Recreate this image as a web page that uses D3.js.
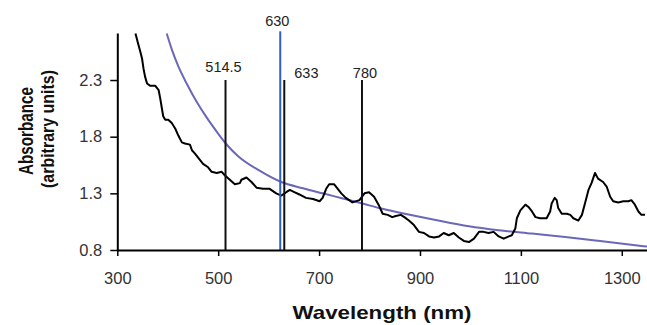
<!DOCTYPE html>
<html>
<head>
<meta charset="utf-8">
<script src="https://cdn.jsdelivr.net/npm/d3@7"></script>
<style>
  html, body { margin: 0; padding: 0; background: #fff; }
  svg { display: block; }
</style>
</head>
<body>
<svg id="chart" width="647" height="325"></svg>
<script>
// ---- Data ----
const xTicks = [300, 500, 700, 900, 1100, 1300];
const yTicks = [0.8, 1.3, 1.8, 2.3];

// measured absorbance spectrum: [wavelength nm, absorbance]
const spectrumWl = [336,342,345,349,352,355,359,365,375,382,385,388,391,395,401,408,415,421,428,434,444,448,454,461,470,480,487,497,507,513,523,533,543,
  546,556,566,576,589,602,615,625,635,642,651,661,674,688,701,707,714,720,730,737,744,753,766,780,790,799,809,819,
  826,836,845,852,862,869,878,888,898,908,918,928,938,947,957,967,977,987,997,1007,1017,1026,1036,1046,1056,1066,1076,1082,1089,1092,1099,
  1109,1115,1122,1129,1138,1151,1158,1161,1167,1171,1174,1181,1191,1198,1204,1214,1221,1227,1234,1240,1247,1253,1263,1270,1277,1283,1293,1303,1313,1319,1326,1333,1339,1346];
const spectrumAbs = [2.71,2.61,2.56,2.49,2.40,2.33,2.27,2.25,2.25,2.21,2.14,2.06,1.98,1.95,1.95,1.92,1.87,1.81,1.75,1.74,1.73,1.68,1.65,1.61,1.56,1.53,1.49,1.48,1.49,1.46,1.42,1.38,1.39,
  1.42,1.44,1.40,1.35,1.34,1.34,1.30,1.28,1.31,1.33,1.31,1.29,1.26,1.25,1.23,1.26,1.34,1.38,1.38,1.34,1.30,1.26,1.22,1.24,1.30,1.31,1.27,1.19,
  1.12,1.11,1.09,1.10,1.11,1.09,1.06,1.02,0.96,0.95,0.92,0.91,0.92,0.95,0.93,0.95,0.91,0.88,0.87,0.90,0.96,0.96,0.95,0.96,0.92,0.90,0.92,0.93,0.99,1.08,1.15,
  1.20,1.18,1.14,1.09,1.08,1.08,1.14,1.21,1.26,1.24,1.17,1.12,1.12,1.11,1.08,1.06,1.11,1.21,1.33,1.39,1.48,1.43,1.40,1.36,1.27,1.23,1.22,1.23,1.23,1.24,1.20,1.14,1.11,1.11];

// smooth scattering curve (blue)
const fitWl  = [398,408,421,438,457,477,497,515,539,582,625,668,707,747,786,819,865,931,997,1056,1122,1188,1253,1350];
const fitAbs = [2.71,2.57,2.42,2.265,2.11,1.97,1.845,1.74,1.63,1.50,1.40,1.345,1.30,1.255,1.21,1.17,1.125,1.065,1.01,0.975,0.945,0.915,0.882,0.83];

// laser lines
const laserLabels = ["514.5", "630", "633", "780"];
const laserPos    = [514.5, 623, 631, 785];
const laserTop    = [2.3, 2.73, 2.3, 2.3];
const laserColor  = ["#111", "#2f5fc4", "#111", "#111"];

// ---- Layout ----
const svg = d3.select("#chart");
const x = d3.scaleLinear().domain([300, 1350]).range([117.3, 647]);
const y = d3.scaleLinear().domain([0.8, 2.715]).range([250, 33]);

svg.append("defs").append("clipPath").attr("id", "clip")
  .append("rect").attr("x", 117).attr("y", 33).attr("width", 530).attr("height", 217);

const plot = svg.append("g").attr("clip-path", "url(#clip)");

// blue fitted curve
plot.append("path")
  .datum(fitWl.map((w, i) => [w, fitAbs[i]]))
  .attr("d", d3.line().x(d => x(d[0])).y(d => y(d[1])).curve(d3.curveMonotoneX))
  .attr("fill", "none").attr("stroke", "#6a68b8").attr("stroke-width", 2);

// black spectrum
plot.append("path")
  .datum(spectrumWl.map((w, i) => [w, spectrumAbs[i]]))
  .attr("d", d3.line().x(d => x(d[0])).y(d => y(d[1])).curve(d3.curveLinear))
  .attr("fill", "none").attr("stroke", "#000").attr("stroke-width", 2)
  .attr("stroke-linejoin", "round");

// laser lines
laserPos.forEach((p, i) => {
  svg.append("line")
    .attr("x1", x(p)).attr("x2", x(p))
    .attr("y1", y(0.8)).attr("y2", y(laserTop[i]))
    .attr("stroke", laserColor[i]).attr("stroke-width", 2);
});

// laser labels
const labelFont = "'Liberation Sans', Arial, sans-serif";
const labAnchor = ["middle", "middle", "start", "middle"];
const labDx = [-2, -3, 10, 3];
const labDy = [-8, -5, -2, -2];
laserPos.forEach((p, i) => {
  svg.append("text")
    .attr("x", x(p) + labDx[i]).attr("y", y(laserTop[i]) + labDy[i])
    .attr("text-anchor", labAnchor[i])
    .attr("font-family", labelFont).attr("font-size", 14.5)
    .attr("fill", "#222")
    .text(laserLabels[i]);
});

// axes
const xAxis = d3.axisBottom(x).tickValues(xTicks).tickSize(6).tickSizeOuter(0).tickPadding(16).tickFormat(d3.format("d"));
const gx = svg.append("g").attr("transform", "translate(0,250)").call(xAxis);
const yAxis = d3.axisLeft(y).tickValues(yTicks).tickSize(7).tickSizeOuter(0).tickPadding(8).tickFormat(d3.format(".1f"));
const gy = svg.append("g").attr("transform", "translate(117.3,0)").call(yAxis);

[gx, gy].forEach(g => {
  g.select(".domain").attr("stroke", "#000").attr("stroke-width", 2);
  g.selectAll(".tick line").attr("stroke", "#000").attr("stroke-width", 1.5);
  g.selectAll(".tick text").attr("font-family", labelFont).attr("font-size", 16.5).attr("fill", "#333");
});

// axis titles
svg.append("text")
  .attr("x", 382).attr("y", 319)
  .attr("text-anchor", "middle")
  .attr("font-family", labelFont).attr("font-weight", "bold").attr("font-size", 18.5)
  .attr("textLength", 179).attr("lengthAdjust", "spacingAndGlyphs")
  .attr("fill", "#111")
  .text("Wavelength (nm)");

svg.append("text")
  .attr("transform", "translate(33,131) rotate(-90)")
  .attr("text-anchor", "middle")
  .attr("font-family", labelFont).attr("font-weight", "bold").attr("font-size", 19.5)
  .attr("textLength", 88).attr("lengthAdjust", "spacingAndGlyphs")
  .attr("fill", "#111")
  .text("Absorbance");

svg.append("text")
  .attr("transform", "translate(54,129) rotate(-90)")
  .attr("text-anchor", "middle")
  .attr("font-family", labelFont).attr("font-weight", "bold").attr("font-size", 19)
  .attr("textLength", 118).attr("lengthAdjust", "spacingAndGlyphs")
  .attr("fill", "#111")
  .text("(arbitrary units)");
</script>
</body>
</html>
